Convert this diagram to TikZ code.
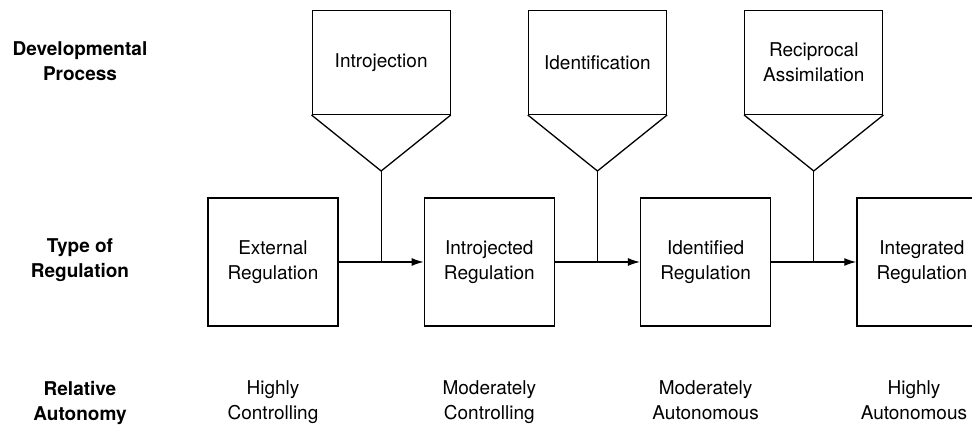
\documentclass[tikz,border=0pt]{standalone}
\usepackage{fontspec}
\setmainfont{TeX Gyre Heros}
\usetikzlibrary{positioning, arrows.meta, calc}

\begin{document}
\begin{tikzpicture}[x=1pt, y=1pt, node distance=85pt,
    every node/.style={font=\fontsize{19}{25}\selectfont, align=center},
    regbox/.style={draw, line width=1.3pt, minimum width=130pt, minimum height=128pt, inner sep=0pt},
    procbox/.style={draw, line width=1.3pt, minimum width=138pt, minimum height=104pt, inner sep=0pt},
    rowlabel/.style={font=\fontsize{19}{25}\selectfont\bfseries},
    autlabel/.style={text depth=5pt},
    link/.style={line width=1.3pt}]
  \clip (0,0) rectangle (972,439);
  \node[rowlabel] (dev) at (80,378) {Developmental\\Process};
  \node[rowlabel] (type) at (80,179) {Type of\\Regulation};
  \node[rowlabel, autlabel] (rel) at (80,36) {Relative\\Autonomy};

  \node[regbox] (ext) at (273,177) {External\\Regulation};
  \node[regbox, right=of ext] (intr) {Introjected\\Regulation};
  \node[regbox, right=of intr] (iden) {Identified\\Regulation};
  \node[regbox, right=of iden] (integ) {Integrated\\Regulation};

  \coordinate (j1) at ($(ext.east)!0.5!(intr.west)$);
  \coordinate (j2) at ($(intr.east)!0.5!(iden.west)$);
  \coordinate (j3) at ($(iden.east)!0.5!(integ.west)$);

  \node[procbox, above=147pt of j1] (proc1) {Introjection};
  \node[procbox, above=147pt of j2] (proc2) {Identification};
  \node[procbox, above=147pt of j3] (proc3) {Reciprocal\\Assimilation};

  \coordinate (tip1) at ([yshift=-56pt]proc1.south);
  \coordinate (tip2) at ([yshift=-56pt]proc2.south);
  \coordinate (tip3) at ([yshift=-56pt]proc3.south);

  \draw[link] (proc1.south west) -- (tip1) -- (proc1.south east);
  \draw[link] (proc2.south west) -- (tip2) -- (proc2.south east);
  \draw[link] (proc3.south west) -- (tip3) -- (proc3.south east);
  \draw[link] (tip1) -- (j1);
  \draw[link] (tip2) -- (j2);
  \draw[link] (tip3) -- (j3);

  \draw[link, -{Latex[length=12pt,width=8pt]}] (ext) -- (intr);
  \draw[link, -{Latex[length=12pt,width=8pt]}] (intr) -- (iden);
  \draw[link, -{Latex[length=12pt,width=8pt]}] (iden) -- (integ);

  \node[autlabel] (aut1) at (ext |- rel) {Highly\\Controlling};
  \node[autlabel] (aut2) at (intr |- rel) {Moderately\\Controlling};
  \node[autlabel] (aut3) at (iden |- rel) {Moderately\\Autonomous};
  \node[autlabel] (aut4) at ([xshift=-8pt]integ |- rel) {Highly\\Autonomous};
\end{tikzpicture}
\end{document}
